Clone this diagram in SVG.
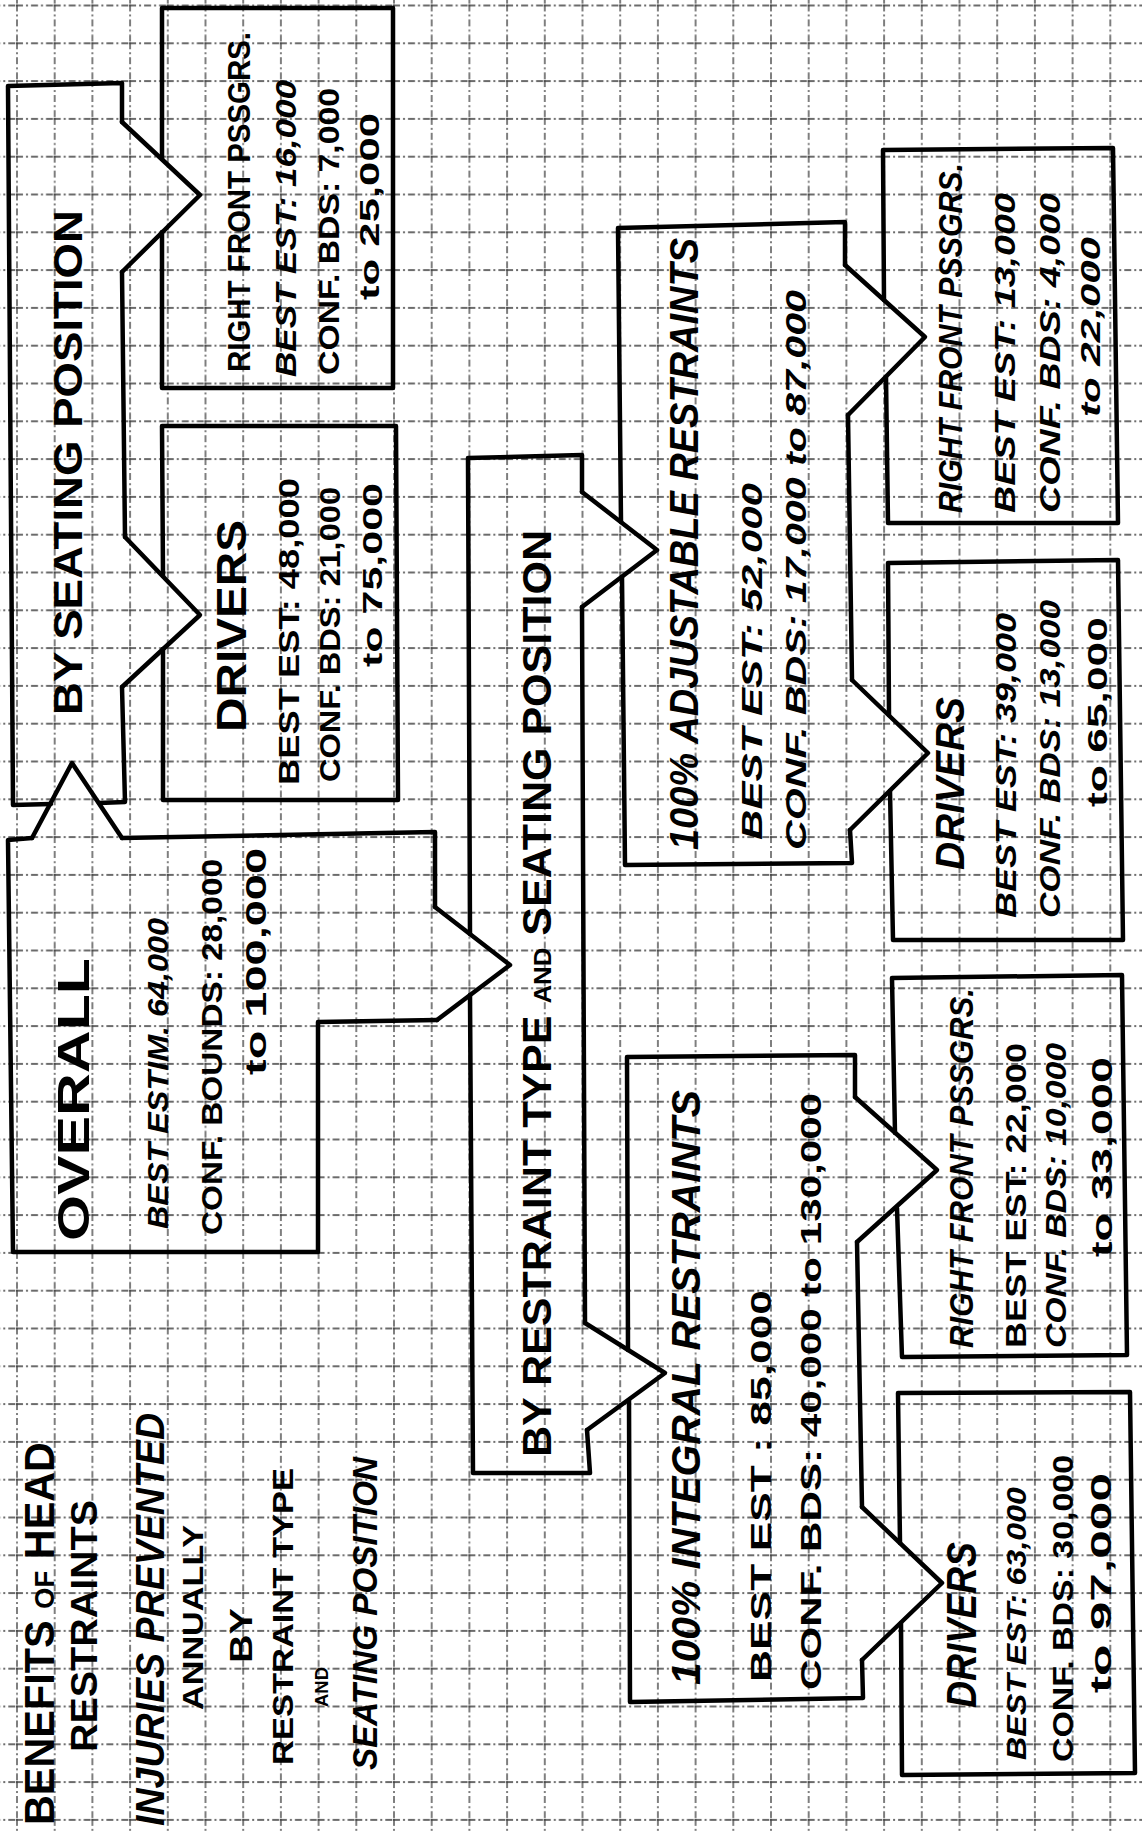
<svg xmlns="http://www.w3.org/2000/svg" width="1142" height="1833" viewBox="0 0 1142 1833">
<defs>
<pattern id="grid" patternUnits="userSpaceOnUse" x="16" y="4.5" width="37.7" height="37.8">
<path d="M1,0 V37.8 M0,1 H37.7" stroke="#3a3a3a" stroke-width="1.3" fill="none" stroke-dasharray="7 3 2 3"/>
</pattern>
<style>
.box{fill:none;stroke:#000;stroke-width:4.5;stroke-linejoin:round;stroke-linecap:round}
.arr{fill:none;stroke:#000;stroke-width:4.5;stroke-linejoin:round;stroke-linecap:round}
text{font-family:"Liberation Sans",Arial,sans-serif;font-weight:bold;fill:#000}
.it{font-style:italic}
</style>
</defs>
<rect width="1142" height="1833" fill="#fff"/>
<rect width="1142" height="1833" fill="url(#grid)"/>

<g id="title">
<text transform="translate(54,1825) rotate(-90)" font-size="42" textLength="383" lengthAdjust="spacingAndGlyphs">BENEFITS <tspan font-size="28">OF</tspan> HEAD</text>
<text transform="translate(97,1752) rotate(-90)" font-size="37" textLength="252" lengthAdjust="spacingAndGlyphs">RESTRAINTS</text>
<text class="it" transform="translate(164,1826) rotate(-90)" font-size="40" textLength="413" lengthAdjust="spacingAndGlyphs">INJURIES PREVENTED</text>
<text transform="translate(203,1710) rotate(-90)" font-size="29" textLength="185" lengthAdjust="spacingAndGlyphs">ANNUALLY</text>
<text transform="translate(252,1663) rotate(-90)" font-size="32" textLength="55" lengthAdjust="spacingAndGlyphs">BY</text>
<text transform="translate(293,1765) rotate(-90)" font-size="30" textLength="297" lengthAdjust="spacingAndGlyphs">RESTRAINT TYPE</text>
<text transform="translate(328,1707) rotate(-90)" font-size="18" textLength="40" lengthAdjust="spacingAndGlyphs">AND</text>
<text class="it" transform="translate(377,1770) rotate(-90)" font-size="35" textLength="313" lengthAdjust="spacingAndGlyphs">SEATING POSITION</text>
</g>

<g id="by-seating-position">
<path class="box" d="M51,804 L13,805 L8,86 L122,83 L122,122 M122,272 L125,537 M122,687 L125,802 L99,803"/>
<text transform="translate(82,715) rotate(-90)" font-size="40" textLength="505" lengthAdjust="spacingAndGlyphs">BY SEATING POSITION</text>
</g>

<g id="seat-right-front">
<path class="box" d="M162,159 L162,8 L393,8 L393,388 L162,388 L162,232"/>
<text transform="translate(250,372) rotate(-90)" font-size="32" textLength="340" lengthAdjust="spacingAndGlyphs">RIGHT FRONT PSSGRS.</text>
<text class="it" transform="translate(296,377) rotate(-90)" font-size="30" textLength="297" lengthAdjust="spacingAndGlyphs">BEST EST: 16,000</text>
<text transform="translate(339,375) rotate(-90)" font-size="30" textLength="287" lengthAdjust="spacingAndGlyphs">CONF. BDS: 7,000</text>
<text transform="translate(379,300) rotate(-90)" font-size="28" textLength="187" lengthAdjust="spacingAndGlyphs">to 25,000</text>
</g>

<g id="seat-drivers">
<path class="box" d="M163,576 L162,426 L396,426 L398,800 L163,800 L163,649"/>
<text transform="translate(246,732) rotate(-90)" font-size="42" textLength="212" lengthAdjust="spacingAndGlyphs">DRIVERS</text>
<text transform="translate(299,785) rotate(-90)" font-size="30" textLength="307" lengthAdjust="spacingAndGlyphs">BEST EST: 48,000</text>
<text transform="translate(340,782) rotate(-90)" font-size="30" textLength="295" lengthAdjust="spacingAndGlyphs">CONF. BDS: 21,000</text>
<text transform="translate(382,667) rotate(-90)" font-size="28" textLength="184" lengthAdjust="spacingAndGlyphs">to 75,000</text>
</g>

<g id="overall">
<path class="box" d="M122,838 L435,832 L435,907 M437,1020 L318,1022 L318,1252 L13,1252 L8,840 L32,838"/>
<text transform="translate(89,1241) rotate(-90)" font-size="44" textLength="283" lengthAdjust="spacingAndGlyphs">OVERALL</text>
<text class="it" transform="translate(168,1229) rotate(-90)" font-size="30" textLength="311" lengthAdjust="spacingAndGlyphs">BEST ESTIM. 64,000</text>
<text transform="translate(222,1235) rotate(-90)" font-size="30" textLength="376" lengthAdjust="spacingAndGlyphs">CONF. BOUNDS: 28,000</text>
<text transform="translate(266,1075) rotate(-90)" font-size="30" textLength="227" lengthAdjust="spacingAndGlyphs">to 100,000</text>
</g>

<g id="by-restraint-type">
<path class="box" d="M470,934 L468,458 L582,455 L582,492 M582,607 L585,1323 M587,1430 L590,1473 L473,1473 L470,995"/>
<text transform="translate(551,1457) rotate(-90)" font-size="40" textLength="927" lengthAdjust="spacingAndGlyphs">BY RESTRAINT TYPE <tspan font-size="24">AND</tspan> SEATING POSITION</text>
</g>

<g id="adjustable">
<path class="box" d="M621,522 L618,228 L845,222 L845,265 M848,415 L852,680 M850,830 L852,863 L625,865 L622,577"/>
<text class="it" transform="translate(698,850) rotate(-90)" font-size="40" textLength="612" lengthAdjust="spacingAndGlyphs">100% ADJUSTABLE RESTRAINTS</text>
<text class="it" transform="translate(762,840) rotate(-90)" font-size="30" textLength="357" lengthAdjust="spacingAndGlyphs">BEST EST: 52,000</text>
<text class="it" transform="translate(806,850) rotate(-90)" font-size="30" textLength="560" lengthAdjust="spacingAndGlyphs">CONF. BDS: 17,000 to 87,000</text>
</g>

<g id="adj-right-front">
<path class="box" d="M884,300 L883,150 L1113,148 L1118,523 L888,523 L886,377"/>
<text class="it" transform="translate(962,513) rotate(-90)" font-size="34" textLength="350" lengthAdjust="spacingAndGlyphs">RIGHT FRONT PSSGRS.</text>
<text class="it" transform="translate(1015,513) rotate(-90)" font-size="30" textLength="320" lengthAdjust="spacingAndGlyphs">BEST EST: 13,000</text>
<text class="it" transform="translate(1060,513) rotate(-90)" font-size="30" textLength="320" lengthAdjust="spacingAndGlyphs">CONF. BDS: 4,000</text>
<text class="it" transform="translate(1100,417) rotate(-90)" font-size="28" textLength="180" lengthAdjust="spacingAndGlyphs">to 22,000</text>
</g>

<g id="adj-drivers">
<path class="box" d="M889,715 L888,563 L1118,560 L1123,940 L893,940 L890,791"/>
<text class="it" transform="translate(964,870) rotate(-90)" font-size="40" textLength="173" lengthAdjust="spacingAndGlyphs">DRIVERS</text>
<text class="it" transform="translate(1016,918) rotate(-90)" font-size="30" textLength="305" lengthAdjust="spacingAndGlyphs">BEST EST: 39,000</text>
<text class="it" transform="translate(1060,918) rotate(-90)" font-size="30" textLength="318" lengthAdjust="spacingAndGlyphs">CONF. BDS: 13,000</text>
<text transform="translate(1107,807) rotate(-90)" font-size="28" textLength="190" lengthAdjust="spacingAndGlyphs">to 65,000</text>
</g>

<g id="integral">
<path class="box" d="M628,1350 L627,1057 L855,1055 L855,1097 M857,1242 L862,1507 M862,1660 L863,1698 L630,1702 L629,1400"/>
<text class="it" transform="translate(700,1685) rotate(-90)" font-size="40" textLength="595" lengthAdjust="spacingAndGlyphs">100% INTEGRAL RESTRAINTS</text>
<text transform="translate(771,1682) rotate(-90)" font-size="30" textLength="392" lengthAdjust="spacingAndGlyphs">BEST EST :   85,000</text>
<text transform="translate(821,1690) rotate(-90)" font-size="30" textLength="597" lengthAdjust="spacingAndGlyphs">CONF. BDS:  40,000 to 130,000</text>
</g>

<g id="int-right-front">
<path class="box" d="M895,1133 L892,978 L1122,975 L1127,1355 L902,1357 L897,1208"/>
<text class="it" transform="translate(973,1348) rotate(-90)" font-size="34" textLength="360" lengthAdjust="spacingAndGlyphs">RIGHT FRONT PSSGRS.</text>
<text transform="translate(1026,1348) rotate(-90)" font-size="30" textLength="305" lengthAdjust="spacingAndGlyphs">BEST EST: 22,000</text>
<text class="it" transform="translate(1066,1348) rotate(-90)" font-size="30" textLength="305" lengthAdjust="spacingAndGlyphs">CONF. BDS: 10,000</text>
<text transform="translate(1112,1257) rotate(-90)" font-size="30" textLength="200" lengthAdjust="spacingAndGlyphs">to 33,000</text>
</g>

<g id="int-drivers">
<path class="box" d="M900,1543 L898,1393 L1130,1392 L1135,1773 L902,1775 L901,1623"/>
<text class="it" transform="translate(976,1708) rotate(-90)" font-size="42" textLength="166" lengthAdjust="spacingAndGlyphs">DRIVERS</text>
<text class="it" transform="translate(1026,1760) rotate(-90)" font-size="28" textLength="273" lengthAdjust="spacingAndGlyphs">BEST EST: 63,000</text>
<text transform="translate(1073,1762) rotate(-90)" font-size="30" textLength="307" lengthAdjust="spacingAndGlyphs">CONF. BDS: 30,000</text>
<text transform="translate(1111,1693) rotate(-90)" font-size="30" textLength="220" lengthAdjust="spacingAndGlyphs">to 97,000</text>
</g>

<g id="connectors">
<path class="arr" d="M122,122 L200,195 L122,272"/>
<path class="arr" d="M125,537 L200,615 L122,687"/>
<path class="arr" d="M32,838 L72,763 L122,838"/>
<path class="arr" d="M435,907 L510,965 L437,1020"/>
<path class="arr" d="M582,492 L657,550 L582,607"/>
<path class="arr" d="M585,1323 L665,1373 L587,1430"/>
<path class="arr" d="M845,265 L925,337 L848,415"/>
<path class="arr" d="M852,680 L928,753 L850,830"/>
<path class="arr" d="M855,1097 L937,1170 L857,1242"/>
<path class="arr" d="M862,1507 L942,1583 L862,1660"/>
</g>
</svg>
